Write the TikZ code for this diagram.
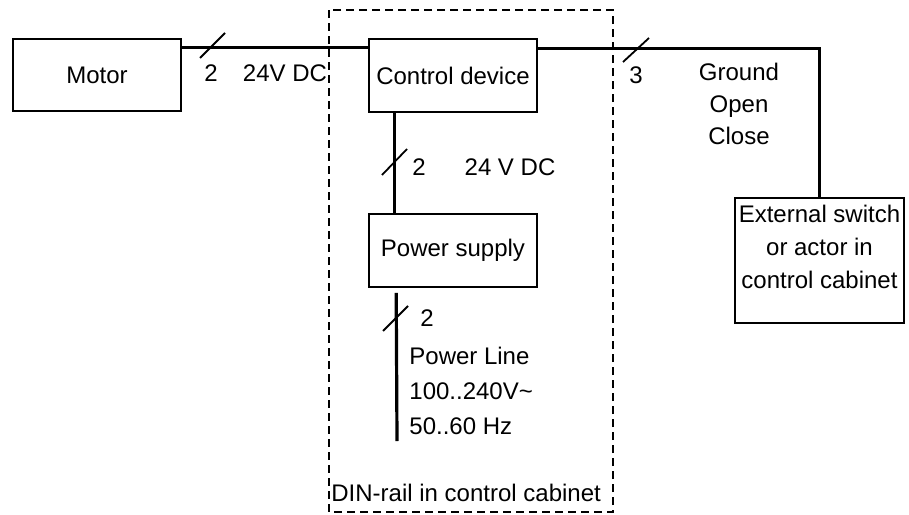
\documentclass[tikz,border=0pt]{standalone}
\usepackage{fontspec}
\setmainfont{Liberation Sans}
\usetikzlibrary{positioning}

\tikzset{
  box/.style={draw, line width=0.8pt, minimum width=84pt, inner sep=0pt},
  wire/.style={line width=1.6pt},
  tick/.style={line width=0.9pt},
  rail/.style={draw, line width=0.7pt, dash pattern=on 4pt off 2.5pt},
}

\begin{document}
\begin{tikzpicture}[x=0.5pt, y=-0.5pt, font=\fontsize{12}{16.5}\selectfont]
  \useasboundingbox (0,0) rectangle (909,514);
  % DIN-Schiene
  \draw[rail] (329,10) rectangle (613,512);
  \node[anchor=west, inner sep=0pt] (railtxt) at (331,493) {DIN-rail in control cabinet};
  % Geraete
  \node[box, minimum height=36pt] (motor) at (97,75) {Motor};
  \node[box, minimum height=36.5pt] (ctrl) at (453,75.5) {Control device};
  \node[box, minimum height=36.5pt] (psu) at (453,250.5) {Power supply};
  \node[box, minimum width=84.5pt, minimum height=62.5pt, align=center] (ext) at (819.5,260.5)
    {External switch\\or actor in\\control cabinet\\[-3pt]\mbox{}};
  % Motor -- Steuerung
  \draw[wire] ([yshift=-4.5pt]motor.north east) -- ([yshift=-4.5pt]ctrl.north west);
  \draw[tick] (212.5,45.5) +(-12.5,12.5) -- +(12.5,-12.5);
  \node (n2a) at (211,73) {2};
  \node (dc1) at (285,73) {24V DC};
  % Steuerung -- externer Schalter
  \draw[wire] ([yshift=-5pt]ctrl.north east) -| (ext.north);
  \draw[tick] (636,50) +(-13,12) -- +(13,-12);
  \node (n3) at (636,75) {3};
  \node[align=center, font=\fontsize{12}{16}\selectfont] (sig) at (739,104) {Ground\\Open\\Close};
  % Netzteil -- Steuerung
  \draw[wire] ([xshift=13pt]ctrl.south west) -- ([xshift=13pt]psu.north west);
  \draw[tick] (394.5,162) +(-12.5,13) -- +(12.5,-13);
  \node (n2b) at (419,167) {2};
  \node (dc2) at (510,167) {24 V DC};
  % Netzleitung
  \coordinate (mains) at (397,441);
  \draw[wire] ([xshift=14pt,yshift=-2.5pt]psu.south west) -- (mains);
  \draw[tick] (395.5,318.5) +(-12.5,12.5) -- +(12.5,-12.5);
  \node (n2c) at (427,318) {2};
  \node[anchor=west, align=left, inner sep=0pt, font=\fontsize{12}{17.5}\selectfont] (mainstxt) at (409,391)
    {Power Line\\100..240V\textasciitilde\\50..60 Hz};
\end{tikzpicture}
\end{document}
